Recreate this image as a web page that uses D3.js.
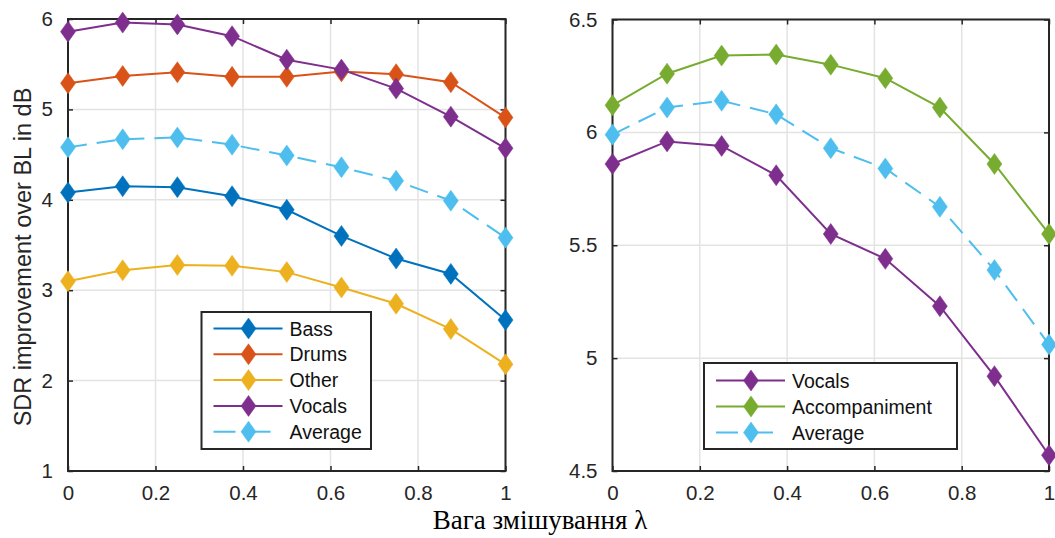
<!DOCTYPE html>
<html>
<head>
<meta charset="utf-8">
<script src="https://cdn.jsdelivr.net/npm/d3@7"></script>
<style>
  html, body { margin: 0; padding: 0; background: #fff; }
  svg { display: block; }
</style>
</head>
<body>
<svg id="chart" width="1055" height="538"></svg>
<script>
// Mixing weight λ (shared by both panels)
const lambda = [0, 0.125, 0.25, 0.375, 0.5, 0.625, 0.75, 0.875, 1];

// Left panel: four-source separation, SDR improvement (dB)
const bass     = [4.08, 4.15, 4.14, 4.04, 3.89, 3.60, 3.35, 3.18, 2.67];
const drums    = [5.29, 5.37, 5.41, 5.36, 5.36, 5.42, 5.39, 5.30, 4.91];
const other    = [3.10, 3.22, 3.28, 3.27, 3.20, 3.03, 2.85, 2.57, 2.18];
const vocals   = [5.86, 5.96, 5.94, 5.81, 5.55, 5.44, 5.23, 4.92, 4.57];
const average4 = [4.58, 4.67, 4.69, 4.61, 4.49, 4.36, 4.21, 3.99, 3.58];

// Right panel: vocals / accompaniment separation
const accompaniment = [6.12, 6.26, 6.34, 6.345, 6.30, 6.24, 6.11, 5.86, 5.55];
const average2      = [5.99, 6.11, 6.14, 6.08, 5.93, 5.84, 5.67, 5.39, 5.06];

// Tick labels
const xTicks      = [0, 0.2, 0.4, 0.6, 0.8, 1];
const yTicksLeft  = [1, 2, 3, 4, 5, 6];
const yTicksRight = [4.5, 5, 5.5, 6, 6.5];

const COLORS = {
  bass: "#0072BD", drums: "#D95319", other: "#EDB120",
  vocals: "#7E2F8E", average: "#4DBEEE", accompaniment: "#77AC30"
};

const svg = d3.select("#chart");
const TICK_FONT = "Liberation Sans, Arial, Helvetica, sans-serif";
const AXIS_COLOR = "#262626";

function diamondPath(cx, cy, hw, hh) {
  return `M${cx},${cy - hh}L${cx + hw},${cy}L${cx},${cy + hh}L${cx - hw},${cy}Z`;
}

function panel(opts) {
  const { x0, x1, yTop, yBot, yDomain, yTicks, yFmt, series, legend } = opts;
  const x = d3.scaleLinear().domain([0, 1]).range([x0, x1]);
  const y = d3.scaleLinear().domain(yDomain).range([yBot, yTop]);
  const g = svg.append("g");

  // grid
  g.append("g").selectAll("line.gx").data(xTicks).join("line")
    .attr("x1", d => x(d)).attr("x2", d => x(d))
    .attr("y1", yTop).attr("y2", yBot)
    .attr("stroke", "#e3e3e3").attr("stroke-width", 1.5);
  g.append("g").selectAll("line.gy").data(yTicks).join("line")
    .attr("y1", d => y(d)).attr("y2", d => y(d))
    .attr("x1", x0).attr("x2", x1)
    .attr("stroke", "#e3e3e3").attr("stroke-width", 1.5);

  // axes with inward ticks on all four sides
  const tl = 5;
  const axB = d3.axisBottom(x).tickValues(xTicks).tickSizeInner(-tl).tickSizeOuter(0)
    .tickPadding(14).tickFormat(d3.format("~g"));
  const axT = d3.axisTop(x).tickValues(xTicks).tickSizeInner(-tl).tickSizeOuter(0).tickFormat("");
  const axL = d3.axisLeft(y).tickValues(yTicks).tickSizeInner(-tl).tickSizeOuter(0)
    .tickPadding(15).tickFormat(yFmt);
  const axR = d3.axisRight(y).tickValues(yTicks).tickSizeInner(-tl).tickSizeOuter(0).tickFormat("");

  const styleAxis = sel => {
    sel.selectAll("path.domain").remove();
    sel.selectAll("line").attr("stroke", AXIS_COLOR).attr("stroke-width", 1.5);
    sel.selectAll("text").attr("fill", AXIS_COLOR)
      .style("font-family", TICK_FONT).style("font-size", "20.5px");
  };
  g.append("g").attr("transform", `translate(0,${yBot})`).call(axB).call(styleAxis);
  g.append("g").attr("transform", `translate(0,${yTop})`).call(axT).call(styleAxis);
  g.append("g").attr("transform", `translate(${x0},0)`).call(axL).call(styleAxis);
  g.append("g").attr("transform", `translate(${x1},0)`).call(axR).call(styleAxis);

  // box
  g.append("rect").attr("x", x0).attr("y", yTop)
    .attr("width", x1 - x0).attr("height", yBot - yTop)
    .attr("fill", "none").attr("stroke", AXIS_COLOR).attr("stroke-width", 2);

  // series
  const line = d3.line().x(d => x(d[0])).y(d => y(d[1]));
  series.forEach(s => {
    const pts = lambda.map((l, i) => [l, s.values[i]]);
    const sg = g.append("g");
    sg.append("path").datum(pts).attr("d", line)
      .attr("fill", "none").attr("stroke", s.color).attr("stroke-width", 2)
      .attr("stroke-dasharray", s.dashed ? "19,10" : null);
    sg.selectAll("path.m").data(pts).join("path")
      .attr("d", d => diamondPath(x(d[0]), y(d[1]), 7.5, 10.5))
      .attr("fill", s.color).attr("stroke", s.color).attr("stroke-width", 0.5);
  });

  // legend
  const L = legend;
  const lg = svg.append("g");
  lg.append("rect").attr("x", L.x).attr("y", L.y).attr("width", L.w).attr("height", L.h)
    .attr("fill", "#fff").attr("stroke", AXIS_COLOR).attr("stroke-width", 2);
  series.forEach((s, i) => {
    const cy = L.firstRow + i * L.rowStep;
    const lx0 = L.x + 12, lx1 = L.x + 81, mx = L.x + 47;
    lg.append("line").attr("x1", lx0).attr("x2", lx1).attr("y1", cy).attr("y2", cy)
      .attr("stroke", s.color).attr("stroke-width", 2)
      .attr("stroke-dasharray", s.dashed ? "22,13" : null);
    lg.append("path").attr("d", diamondPath(mx, cy, 7.5, 10.5))
      .attr("fill", s.color).attr("stroke", s.color).attr("stroke-width", 0.5);
    lg.append("text").attr("x", L.x + 88).attr("y", cy).attr("dy", "0.36em")
      .attr("fill", "#111")
      .style("font-family", TICK_FONT).style("font-size", "19.5px")
      .text(s.name);
  });
}

panel({
  x0: 68, x1: 505.5, yTop: 19, yBot: 471,
  yDomain: [1, 6], yTicks: yTicksLeft, yFmt: d3.format("d"),
  series: [
    { name: "Bass", values: bass, color: COLORS.bass },
    { name: "Drums", values: drums, color: COLORS.drums },
    { name: "Other", values: other, color: COLORS.other },
    { name: "Vocals", values: vocals, color: COLORS.vocals },
    { name: "Average", values: average4, color: COLORS.average, dashed: true }
  ],
  legend: { x: 201.5, y: 312, w: 169.5, h: 137, firstRow: 328.5, rowStep: 25.8 }
});

panel({
  x0: 612.5, x1: 1049, yTop: 19.5, yBot: 471,
  yDomain: [4.5, 6.5], yTicks: yTicksRight, yFmt: d3.format("~g"),
  series: [
    { name: "Vocals", values: vocals, color: COLORS.vocals },
    { name: "Accompaniment", values: accompaniment, color: COLORS.accompaniment },
    { name: "Average", values: average2, color: COLORS.average, dashed: true }
  ],
  legend: { x: 704, y: 363, w: 253, h: 86, firstRow: 380.5, rowStep: 26 }
});

// y-axis label (left panel)
svg.append("text")
  .attr("transform", "translate(31,257) rotate(-90)")
  .attr("text-anchor", "middle")
  .attr("fill", AXIS_COLOR)
  .style("font-family", TICK_FONT).style("font-size", "23.5px")
  .text("SDR improvement over BL in dB");

// shared x-axis label
svg.append("text")
  .attr("x", 540).attr("y", 529)
  .attr("text-anchor", "middle")
  .attr("fill", "#000")
  .style("font-family", "Liberation Serif, Times New Roman, serif").style("font-size", "27px")
  .text("Вага змішування λ");
</script>
</body>
</html>
